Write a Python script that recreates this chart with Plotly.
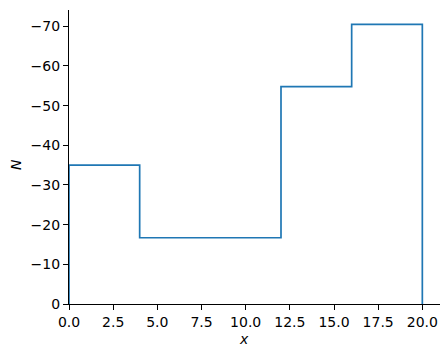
import plotly.graph_objects as go

# Step function data
edges = [0, 4, 12, 16, 20]
levels = [-35.0, -16.7, -54.8, -70.5]

xs = [edges[0]] + edges[:-1] + [edges[-1], edges[-1]]
ys = [0] + levels + [levels[-1], 0]

ytick_vals = [0, -10, -20, -30, -40, -50, -60, -70]
ytick_text = ["0" if v == 0 else "\u2212" + str(abs(v)) for v in ytick_vals]
xtick_vals = [0, 2.5, 5, 7.5, 10, 12.5, 15, 17.5, 20]

fig = go.Figure()
fig.add_trace(go.Scatter(x=xs, y=ys, mode="lines", line=dict(color="#1f77b4", width=1.7, shape="hv"),
                         showlegend=False, hoverinfo="skip", cliponaxis=False))

font = dict(family="DejaVu Sans", size=14, color="black")
W, H = 448, 357
fig.update_layout(
    width=W, height=H,
    margin=dict(l=69, r=8, t=10, b=53),
    plot_bgcolor="white", paper_bgcolor="white",
    font=font,
    xaxis=dict(range=[0, 21], tickvals=xtick_vals, tickformat=".1f", automargin=False,
               showgrid=False, zeroline=False, showline=True, linecolor="black", linewidth=1.2,
               ticks="outside", ticklen=5, tickcolor="black", tickwidth=1, layer="below traces"),
    yaxis=dict(range=[0, -74.1], tickvals=ytick_vals, ticktext=ytick_text, automargin=False,
               showgrid=False, zeroline=False, showline=True, linecolor="black", linewidth=1.2,
               ticks="outside", ticklen=5, tickcolor="black", tickwidth=1, layer="below traces"),
    annotations=[
        dict(text="<i>x</i>", xref="paper", yref="paper", showarrow=False,
             x=(243.5 - 69) / (W - 69 - 8), y=-(339 - 304) / (H - 10 - 53),
             xanchor="center", yanchor="middle", font=font),
        dict(text="<i>N</i>", xref="paper", yref="paper", showarrow=False, textangle=-90,
             x=-(69 - 15.5) / (W - 69 - 8), y=(304 - 164.5) / (H - 10 - 53),
             xanchor="center", yanchor="middle", font=font),
    ],
)
fig.write_html("out.html", config={"displayModeBar": False},
               post_script="document.body.style.margin='0px';document.body.style.overflow='hidden';")
